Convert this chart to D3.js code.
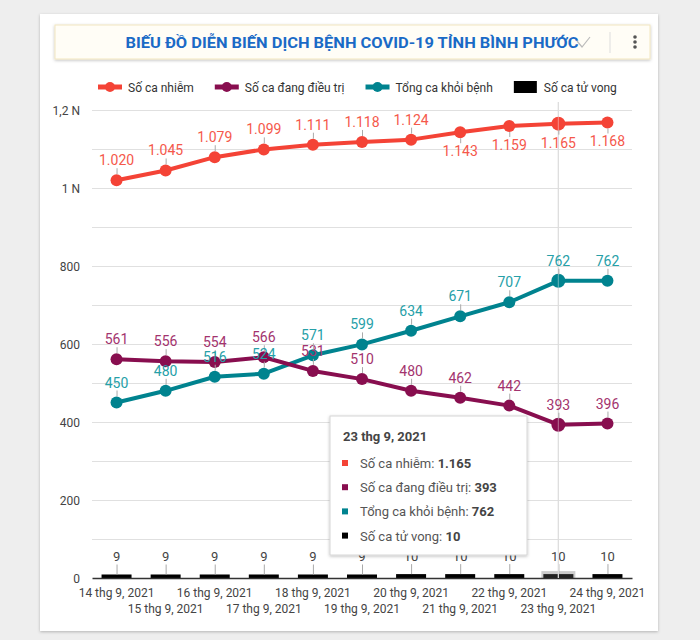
<!DOCTYPE html>
<html><head><meta charset="utf-8">
<script src="https://cdn.jsdelivr.net/npm/d3@7"></script>
<style>
html,body{margin:0;padding:0;background:#eeeeee;}
svg{display:block;font-family:Roboto,"Noto Sans",sans-serif;}
</style></head>
<body>
<svg id="c" width="700" height="640"></svg>
<script>
const title = "BIẾU ĐỒ DIỄN BIẾN DỊCH BỆNH COVID-19 TỈNH BÌNH PHƯỚC";
const dates = ["14 thg 9, 2021","15 thg 9, 2021","16 thg 9, 2021","17 thg 9, 2021","18 thg 9, 2021","19 thg 9, 2021","20 thg 9, 2021","21 thg 9, 2021","22 thg 9, 2021","23 thg 9, 2021","24 thg 9, 2021"];
const infected  = [1020,1045,1079,1099,1111,1118,1124,1143,1159,1165,1168];
const treating  = [561,556,554,566,531,510,480,462,442,393,396];
const recovered = [450,480,516,524,571,599,634,671,707,762,762];
const deaths    = [9,9,9,9,9,9,10,10,10,10,10];
const seriesNames = ["Số ca nhiễm","Số ca đang điều trị","Tổng ca khỏi bệnh","Số ca tử vong"];
const yTicks = [0,200,400,600,800,1000,1200];
const yTickLabels = ["0","200","400","600","800","1 N","1,2 N"];
const hoverIndex = 9;

const colors = {inf:"#f44336", tre:"#880e4f", rec:"#00838f", dea:"#000000"};
const labelColors = {inf:"#f5584b", tre:"#a3336e", rec:"#26a0a8", dea:"#444"};

const loc = d3.formatLocale({decimal:",", thousands:".", grouping:[3], currency:["","₫"]});
const fmt = loc.format(",d");

const svg = d3.select("#c");
const defs = svg.append("defs");
const sh = defs.append("filter").attr("id","sh").attr("x","-10%").attr("y","-10%").attr("width","120%").attr("height","130%");
sh.append("feDropShadow").attr("dx",0).attr("dy",1).attr("stdDeviation",1.5).attr("flood-color","#000").attr("flood-opacity",0.25);

// card
svg.append("rect").attr("x",40).attr("y",14).attr("width",618).attr("height",617).attr("fill","#fff").attr("filter","url(#sh)");

// title box
svg.append("rect").attr("x",55).attr("y",25).attr("width",595).attr("height",34).attr("fill","#fffdf6").attr("stroke","#f2e6bf").attr("stroke-width",1).attr("filter","url(#sh)");
svg.append("text").attr("x",352).attr("y",48).attr("text-anchor","middle")
  .attr("font-size",15).attr("font-weight",700).attr("fill","#1a6ac6")
  .attr("textLength",453).attr("lengthAdjust","spacingAndGlyphs").text(title);
// download icon (faint)
svg.append("path").attr("d","M577,41 L582,47 L590,37").attr("fill","none").attr("stroke","#bbb").attr("stroke-width",1.2);
svg.append("line").attr("x1",610).attr("x2",610).attr("y1",32).attr("y2",53).attr("stroke","#ddd");
[37,42,47].forEach(cy=>svg.append("circle").attr("cx",635).attr("cy",cy).attr("r",1.8).attr("fill","#555"));

// scales
const x = d3.scaleBand().domain(dates).range([92,632]);
const cx = d => x(d) + x.bandwidth()/2;
const y = d3.scaleLinear().domain([0,1200]).range([578,110]);

// grid
const gridVals = d3.range(100,1201,100);
svg.append("g").selectAll("line").data(gridVals).join("line")
  .attr("x1",92).attr("x2",632).attr("y1",d=>y(d)+0.5).attr("y2",d=>y(d)+0.5)
  .attr("stroke","#e0e0e0");

// y axis labels
const yAxis = d3.axisLeft(y).tickValues(yTicks).tickSize(0).tickPadding(0)
  .tickFormat((d,i)=>yTickLabels[i]);
const ga = svg.append("g").attr("transform","translate(80,0)").call(yAxis);
ga.select(".domain").remove();
ga.selectAll("text").attr("font-size",12).attr("fill","#444").attr("font-family","Roboto").attr("dy","0.35em");

// hover bar highlight
svg.append("rect").attr("x",cx(dates[hoverIndex])-17).attr("y",y(deaths[hoverIndex])-3).attr("width",34).attr("height",y(0)-y(deaths[hoverIndex])+3).attr("fill","#999").attr("opacity",0.5);

// death bars
const bw = 30;
svg.append("g").selectAll("rect").data(deaths).join("rect")
  .attr("x",(d,i)=>cx(dates[i])-bw/2).attr("width",bw)
  .attr("y",d=>y(d)).attr("height",d=>y(0)-y(d))
  .attr("fill",(d,i)=>i===hoverIndex?"#222":colors.dea);

// baseline axis
const xAxis = d3.axisBottom(x).tickSize(0).tickPadding(0).tickFormat("");
const gx = svg.append("g").attr("transform",`translate(0,${y(0)})`).call(xAxis);
gx.select(".domain").attr("stroke","#333").attr("stroke-width",1.5);

// x labels (staggered)
svg.append("g").selectAll("text").data(dates).join("text")
  .attr("x",d=>cx(d)).attr("y",(d,i)=>i%2===0?597:613)
  .attr("text-anchor","middle").attr("font-size",12).attr("fill","#444").text(d=>d);

// death labels
const dl = svg.append("g");
deaths.forEach((v,i)=>{
  const px = cx(dates[i]), top = y(v);
  dl.append("line").attr("x1",px+0.5).attr("x2",px+0.5).attr("y1",top).attr("y2",top-10).attr("stroke","#aaa");
  dl.append("text").attr("x",px).attr("y",top-13).attr("text-anchor","middle").attr("font-size",13).attr("fill","#444").text(v);
});

// lines
const series = [
  {key:"rec", vals:recovered},
  {key:"tre", vals:treating},
  {key:"inf", vals:infected}
];
const line = d3.line().x((d,i)=>cx(dates[i])).y(d=>y(d));

// hover vertical line
svg.append("line").attr("x1",cx(dates[hoverIndex])).attr("x2",cx(dates[hoverIndex])).attr("y1",102).attr("y2",y(0)).attr("stroke","#ccc").attr("stroke-width",1.2);

series.forEach(s=>{
  const g = svg.append("g");
  g.append("path").datum(s.vals).attr("d",line).attr("fill","none").attr("stroke",colors[s.key]).attr("stroke-width",4).attr("stroke-linejoin","round");
  g.selectAll("circle").data(s.vals).join("circle")
    .attr("cx",(d,i)=>cx(dates[i])).attr("cy",d=>y(d)).attr("r",(d,i)=>i===hoverIndex?7:6)
    .attr("fill",colors[s.key]);
});

// hover line over points (faint)
svg.append("line").attr("x1",cx(dates[hoverIndex])).attr("x2",cx(dates[hoverIndex])).attr("y1",102).attr("y2",y(0)).attr("stroke","#fff").attr("stroke-opacity",0.35).attr("stroke-width",1.2);

// value labels
const lg = svg.append("g");
series.slice().reverse().forEach(s=>{
  s.vals.forEach((v,i)=>{
    const px = cx(dates[i]), py = y(v);
    const below = (py - 24) < y(1200);
    if(below){
      lg.append("line").attr("x1",px+0.5).attr("x2",px+0.5).attr("y1",py+6).attr("y2",py+11).attr("stroke","#aaa");
      lg.append("text").attr("x",px).attr("y",py+24).attr("text-anchor","middle").attr("font-size",14).attr("fill",labelColors[s.key]).text(fmt(v));
    } else {
      lg.append("line").attr("x1",px+0.5).attr("x2",px+0.5).attr("y1",py-6).attr("y2",py-12).attr("stroke","#aaa");
      lg.append("text").attr("x",px).attr("y",py-15).attr("text-anchor","middle").attr("font-size",14).attr("fill",labelColors[s.key]).text(fmt(v));
    }
  });
});

// legend
const legendKeys = ["inf","tre","rec","dea"];
const leg = svg.append("g");
let lx = 98;
const ly = 87;
legendKeys.forEach((k,i)=>{
  const it = leg.append("g");
  if(k==="dea"){
    it.append("rect").attr("x",lx).attr("y",ly-6).attr("width",23).attr("height",12).attr("fill","#000");
  } else {
    it.append("line").attr("x1",lx).attr("x2",lx+24).attr("y1",ly).attr("y2",ly).attr("stroke",colors[k]).attr("stroke-width",5);
    it.append("circle").attr("cx",lx+12).attr("cy",ly).attr("r",5).attr("fill",colors[k]);
  }
  const t = it.append("text").attr("x",lx+30).attr("y",ly+4.5).attr("font-size",12).attr("fill","#333").text(seriesNames[i]);
  lx += 30 + t.node().getComputedTextLength() + 21;
});

// tooltip
const tt = svg.append("g").attr("transform","translate(330,416)");
tt.append("rect").attr("width",197).attr("height",139).attr("fill","#fff").attr("stroke","#d6d6d6").attr("filter","url(#sh)");
tt.append("text").attr("x",13).attr("y",25).attr("font-size",13).attr("font-weight",700).attr("fill","#454545").text(dates[hoverIndex]);
const ttVals = [infected[hoverIndex],treating[hoverIndex],recovered[hoverIndex],deaths[hoverIndex]];
legendKeys.forEach((k,i)=>{
  const ry = 47 + i*24.2;
  tt.append("rect").attr("x",12).attr("y",ry-3).attr("width",6).attr("height",6).attr("fill",colors[k]);
  const t = tt.append("text").attr("x",30).attr("y",ry+5).attr("font-size",13).attr("fill","#555");
  t.append("tspan").text(seriesNames[i]+": ");
  t.append("tspan").attr("font-weight",700).attr("fill","#444").text(fmt(ttVals[i]));
});
</script>
</body></html>
